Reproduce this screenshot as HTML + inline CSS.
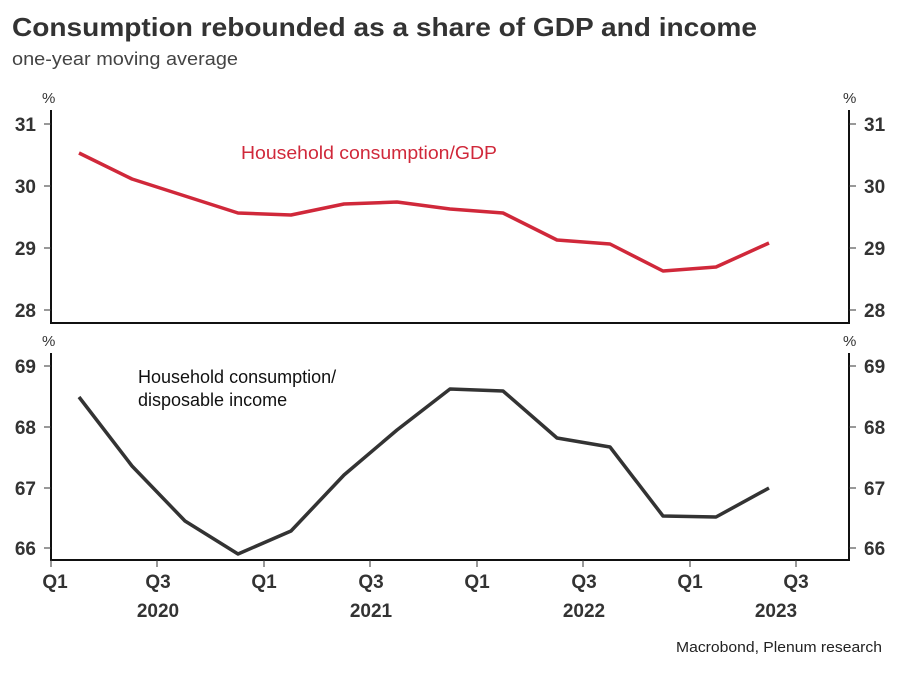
<!DOCTYPE html>
<html><head><style>
body{margin:0;background:#fff;width:900px;height:672px;overflow:hidden;font-family:"Liberation Sans",sans-serif}
</style></head><body>
<svg width="900" height="672" xmlns="http://www.w3.org/2000/svg" font-family="Liberation Sans, sans-serif">
<text x="12" y="36" font-size="26" font-weight="bold" fill="#333" textLength="745" lengthAdjust="spacingAndGlyphs">Consumption rebounded as a share of GDP and income</text>
<text x="12" y="65" font-size="18" fill="#444" textLength="226" lengthAdjust="spacingAndGlyphs">one-year moving average</text>
<g stroke="#111" stroke-width="2" fill="none">
<path d="M51 110 V323 H849 V110"/>
<path d="M51 353 V560 H849 V353"/>
</g>
<g stroke="#333" stroke-width="1">
<path d="M44 124H51M44 186H51M44 248H51M44 310H51M849 124H856M849 186H856M849 248H856M849 310H856"/>
<path d="M44 366H51M44 427H51M44 488H51M44 548H51M849 366H856M849 427H856M849 488H856M849 548H856"/>
<path d="M51 560V567M157 560V567M264 560V567M370 560V567M477 560V567M583 560V567M690 560V567M796 560V567"/>
</g>
<g font-size="19" font-weight="bold" fill="#333">
<g text-anchor="end"><text x="36" y="131">31</text><text x="36" y="193">30</text><text x="36" y="255">29</text><text x="36" y="317">28</text>
<text x="36" y="373">69</text><text x="36" y="434">68</text><text x="36" y="495">67</text><text x="36" y="555">66</text></g>
<text x="864" y="131">31</text><text x="864" y="193">30</text><text x="864" y="255">29</text><text x="864" y="317">28</text>
<text x="864" y="373">69</text><text x="864" y="434">68</text><text x="864" y="495">67</text><text x="864" y="555">66</text>
<g text-anchor="middle"><text x="55" y="588">Q1</text><text x="158" y="588">Q3</text><text x="264" y="588">Q1</text><text x="371" y="588">Q3</text><text x="477" y="588">Q1</text><text x="584" y="588">Q3</text><text x="690" y="588">Q1</text><text x="796" y="588">Q3</text>
<text x="158" y="617">2020</text><text x="371" y="617">2021</text><text x="584" y="617">2022</text><text x="776" y="617">2023</text></g>
</g>
<g font-size="15" fill="#333"><text x="42" y="103">%</text><text x="843" y="103">%</text><text x="42" y="346">%</text><text x="843" y="346">%</text></g>
<text x="241" y="159" font-size="18" fill="#d0283a" textLength="256" lengthAdjust="spacingAndGlyphs">Household consumption/GDP</text>
<text x="138" y="383" font-size="18" fill="#111">Household consumption/</text>
<text x="138" y="406" font-size="18" fill="#111">disposable income</text>
<polyline fill="none" stroke="#d0283a" stroke-width="3.5" stroke-linejoin="round" points="79,153 132,179 185,196 238,213 291,215 344,204 397,202 450,209 503,213 557,240 610,244 663,271 716,267 769,243"/>
<polyline fill="none" stroke="#333" stroke-width="3.5" stroke-linejoin="round" points="79,397 132,466 185,521 238,554 291,531 344,475 397,430 450,389 503,391 557,438 610,447 663,516 716,517 769,488"/>
<text x="882" y="652" font-size="15" fill="#222" text-anchor="end" textLength="206" lengthAdjust="spacingAndGlyphs">Macrobond, Plenum research</text>
</svg>
</body></html>
